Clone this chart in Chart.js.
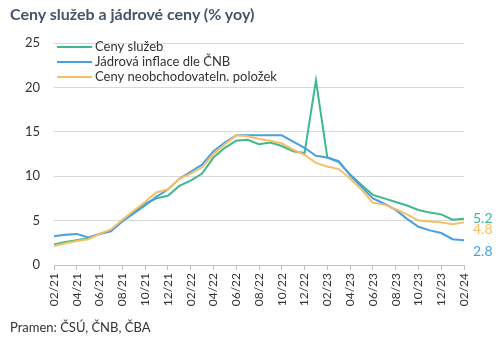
<!DOCTYPE html>
<html>
<head>
<meta charset="utf-8">
<script src="https://cdn.jsdelivr.net/npm/chart.js@4/dist/chart.umd.min.js"></script>
<style>
  html, body { margin: 0; padding: 0; background: #fff; }
  #wrap { position: relative; width: 500px; height: 338px; overflow: hidden; }
  #chart { position: absolute; left: 0; top: 0; }
  .title {
    position: absolute; left: 10px; top: 4px;
    font: bold 16px Lato, 'Open Sans', sans-serif; color: #44546A;
    white-space: nowrap;
  }
  .source {
    position: absolute; left: 10px; top: 319px;
    font: 13px Lato, 'Open Sans', sans-serif; color: #333;
    white-space: nowrap;
  }
</style>
</head>
<body>
<div id="wrap">
  <canvas id="chart" width="500" height="338"></canvas>
  <div class="title">Ceny služeb a jádrové ceny (% yoy)</div>
  <div class="source">Pramen: ČSÚ, ČNB, ČBA</div>
</div>
<script>
// ── DATA ──
const months = [
  '02/21', '03/21', '04/21', '05/21', '06/21', '07/21', '08/21', '09/21', '10/21', '11/21', '12/21',
  '01/22', '02/22', '03/22', '04/22', '05/22', '06/22', '07/22', '08/22', '09/22', '10/22', '11/22', '12/22',
  '01/23', '02/23', '03/23', '04/23', '05/23', '06/23', '07/23', '08/23', '09/23', '10/23', '11/23', '12/23',
  '01/24', '02/24'
];
const services = [
  2.3, 2.6, 2.8, 3.0, 3.5, 3.9, 5.0, 5.9, 6.9, 7.5, 7.8,
  8.9, 9.5, 10.3, 12.1, 13.2, 14.0, 14.1, 13.6, 13.8, 13.4, 12.8, 12.6,
  20.8, 12.1, 11.6, 10.2, 9.0, 7.9, 7.5, 7.1, 6.7, 6.2, 5.9, 5.7,
  5.1, 5.2
];
const coreCnb = [
  3.25, 3.4, 3.5, 3.1, 3.5, 3.8, 4.9, 5.8, 6.7, 7.7, 8.5,
  9.7, 10.5, 11.3, 12.8, 13.8, 14.6, 14.6, 14.6, 14.6, 14.6, 13.9, 13.2,
  12.3, 12.1, 11.7, 10.1, 8.8, 7.5, 6.9, 6.2, 5.2, 4.3, 3.9, 3.6,
  2.9, 2.8
];
const nonTradable = [
  2.15, 2.45, 2.7, 2.9, 3.5, 4.0, 5.1, 6.1, 7.1, 8.2, 8.5,
  9.7, 10.3, 11.0, 12.5, 13.6, 14.6, 14.5, 14.2, 14.0, 13.7, 13.0, 12.4,
  11.5, 11.1, 10.8, 9.7, 8.5, 7.0, 6.8, 6.3, 5.7, 5.0, 4.9, 4.8,
  4.6, 4.8
];
const seriesNames = ['Ceny služeb', 'Jádrová inflace dle ČNB', 'Ceny neobchodovateln. položek'];
const yTicks = [0, 5, 10, 15, 20, 25];

// palette
const C_GREEN  = '#3DB98A';
const C_BLUE   = '#4A9FE0';
const C_ORANGE = '#F8BE64';
const C_GRID   = '#D9D9D9';
const C_TEXT   = '#333333';
const FONT     = "Lato, 'Open Sans', sans-serif";

// legend in the upper left corner of the plot
const cornerLegend = {
  id: 'cornerLegend',
  afterDraw(chart) {
    const { ctx } = chart;
    ctx.save();
    ctx.font = '13px ' + FONT;
    ctx.textBaseline = 'middle';
    chart.data.datasets.forEach((ds, i) => {
      const y = 47 + i * 15;
      ctx.strokeStyle = ds.borderColor;
      ctx.lineWidth = 2;
      ctx.beginPath();
      ctx.moveTo(57, y);
      ctx.lineTo(92, y);
      ctx.stroke();
      ctx.fillStyle = C_TEXT;
      ctx.fillText(ds.label, 95, y);
    });
    ctx.restore();
  }
};

// last values written right of the lines
const endLabels = {
  id: 'endLabels',
  afterDatasetsDraw(chart) {
    const { ctx, scales } = chart;
    const shift = [0, 11, 7];   // nudge so the labels do not overlap
    ctx.save();
    ctx.font = '14px ' + FONT;
    ctx.textBaseline = 'middle';
    chart.data.datasets.forEach((ds, i) => {
      const v = ds.data[ds.data.length - 1];
      ctx.fillStyle = ds.borderColor;
      ctx.fillText(v.toFixed(1), chart.chartArea.right + 9, scales.y.getPixelForValue(v) + shift[i]);
    });
    ctx.restore();
  }
};

// later series sit on top of earlier ones
const line = (label, data, color, order) => ({
  label, data, order,
  borderColor: color,
  backgroundColor: color,
  borderWidth: 2,
  pointRadius: 0,
  tension: 0
});

new Chart(document.getElementById('chart'), {
  type: 'line',
  data: {
    labels: months,
    datasets: [
      line(seriesNames[0], services, C_GREEN, 3),
      line(seriesNames[1], coreCnb, C_BLUE, 2),
      line(seriesNames[2], nonTradable, C_ORANGE, 1)
    ]
  },
  options: {
    responsive: false,
    animation: false,
    layout: { padding: { top: 43, right: 36, left: 0, bottom: 23 } },
    plugins: {
      legend: { display: false },
      title: { display: false },
      tooltip: { enabled: false }
    },
    scales: {
      x: {
        grid: {
          drawOnChartArea: false,
          tickLength: 5,
          color: (c) => (c.index % 2 === 0 ? '#BFBFBF' : 'transparent')
        },
        border: { color: '#BFBFBF', width: 1 },
        ticks: {
          autoSkip: false,
          maxRotation: 90,
          minRotation: 90,
          padding: 3,
          color: C_TEXT,
          font: { size: 12, family: FONT },
          callback: (v, i) => (i % 2 === 0 ? months[i] : '')
        },
        afterFit: (s) => { s.height = 50; }
      },
      y: {
        min: 0,
        max: 25,
        afterBuildTicks: (s) => { s.ticks = yTicks.map(v => ({ value: v })); },
        grid: { color: C_GRID, drawTicks: false },
        border: { display: false },
        ticks: {
          padding: 14,
          color: C_TEXT,
          font: { size: 13, family: FONT }
        },
        afterFit: (s) => { s.width = 54; }
      }
    }
  },
  plugins: [cornerLegend, endLabels]
});
</script>
</body>
</html>
